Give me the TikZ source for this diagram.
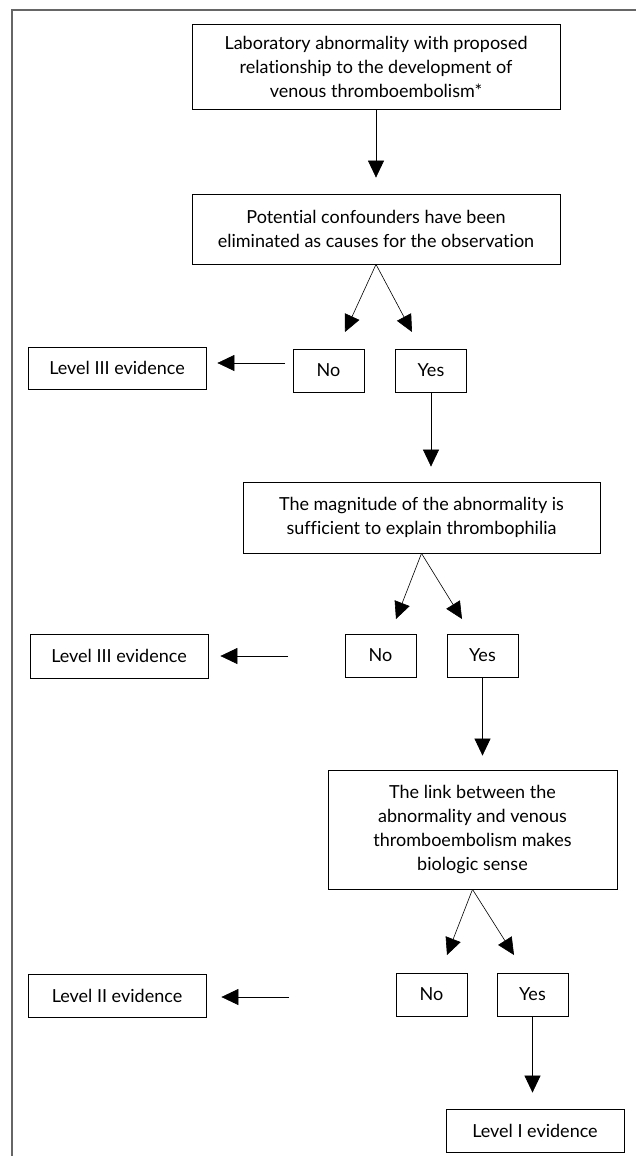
\documentclass[tikz,border=0pt]{standalone}
\usepackage{fontspec}
\setmainfont{Lato}[Ligatures=NoCommon]
\usetikzlibrary{arrows.meta}

\begin{document}
\begin{tikzpicture}[x=1pt, y=-1pt,
    box/.style={draw, line width=0.8pt, align=center, inner sep=2pt, font=\fontsize{18}{24}\selectfont},
    arr/.style={line width=0.6pt, -{Triangle[length=17pt,width=16pt]}}]
    \useasboundingbox (0,0) rectangle (636,1156);
    \draw[line width=1.5pt, black!60] (12,1156) -- (12,10) -- (636,10);

    \node (lab) at (376, 66.5) [box, minimum width=368pt, minimum height=85pt] {Laboratory abnormality with proposed\\relationship to the development of\\venous thromboembolism*};
    \node (conf) at (376, 229) [box, minimum width=368pt, minimum height=70pt] {Potential confounders have been\\eliminated as causes for the observation};
    \node (no1) at (328.5, 370.5) [box, minimum width=71pt, minimum height=43pt] {No};
    \node (yes1) at (431, 370.5) [box, minimum width=71pt, minimum height=43pt] {Yes};
    \node (lvl3a) at (117, 368) [box, minimum width=178pt, minimum height=42pt] {Level III evidence};

    \node (mag) at (421.5, 517.5) [box, minimum width=357pt, minimum height=71pt] {The magnitude of the abnormality is\\sufficient to explain thrombophilia};
    \node (no2) at (380.5, 655.5) [box, minimum width=71pt, minimum height=43pt] {No};
    \node (yes2) at (482.5, 655.5) [box, minimum width=71pt, minimum height=43pt] {Yes};
    \node (lvl3b) at (119, 656) [box, minimum width=178pt, minimum height=44pt] {Level III evidence};

    \node (link) at (472.5, 829.5) [box, minimum width=289pt, minimum height=119pt] {The link between the\\abnormality and venous\\thromboembolism makes\\biologic sense};
    \node (no3) at (431.5, 994.5) [box, minimum width=71pt, minimum height=43pt] {No};
    \node (yes3) at (532.5, 994.5) [box, minimum width=71pt, minimum height=43pt] {Yes};
    \node (lvl2) at (117, 995.5) [box, minimum width=178pt, minimum height=43pt] {Level II evidence};
    \node (lvl1) at (535, 1130.5) [box, minimum width=178pt, minimum height=43pt] {Level I evidence};

    \coordinate (f1l) at (345, 332);
    \coordinate (f1r) at (412, 332);
    \coordinate (f2l) at (396, 619);
    \coordinate (f2r) at (462, 619);
    \coordinate (f3l) at (447, 955);
    \coordinate (f3r) at (514, 955);
    \coordinate (n1) at (285, 363);
    \coordinate (n2) at (288, 656);
    \coordinate (n3) at (289, 997);

    \draw[arr, shorten >=16pt] (lab) -- (conf);
    \draw[arr] (conf.south) -- (f1l);
    \draw[arr] (conf.south) -- (f1r);
    \draw[arr, shorten >=11pt] (n1) -- (n1 -| lvl3a.east);
    \draw[arr, shorten >=15pt] (yes1.south) -- (yes1.south |- mag.north);

    \draw[arr] (mag.south) -- (f2l);
    \draw[arr] (mag.south) -- (f2r);
    \draw[arr, shorten >=12pt] (n2) -- (n2 -| lvl3b.east);
    \draw[arr, shorten >=14pt] (yes2.south) -- (yes2.south |- link.north);

    \draw[arr] (link.south) -- (f3l);
    \draw[arr] (link.south) -- (f3r);
    \draw[arr, shorten >=15pt] (n3) -- (n3 -| lvl2.east);
    \draw[arr, shorten >=16pt] (yes3.south) -- (yes3.south |- lvl1.north);
\end{tikzpicture}
\end{document}
